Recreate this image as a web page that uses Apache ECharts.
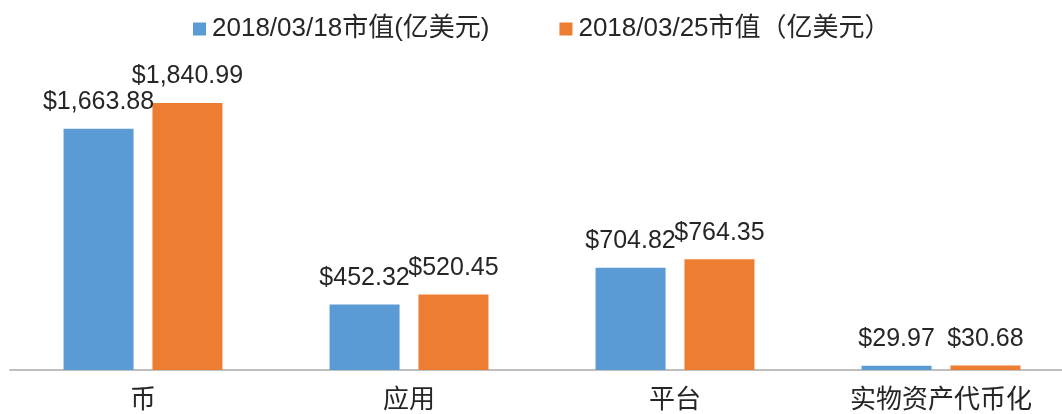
<!DOCTYPE html>
<html lang="zh-CN">
<head>
	<meta charset="UTF-8">
	<title>市值对比</title>
	<script src="https://cdn.jsdelivr.net/npm/echarts@6/dist/echarts.min.js"></script>
	<style>
		html, body { margin: 0; padding: 0; background: #fff; }
		#main { width: 1062px; height: 414px; }
	</style>
</head>
<body>
	<div id="main"></div>
	<script>
		// 分类及两周的市值（亿美元）
		var categories = ['币', '应用', '平台', '实物资产代币化'];
		var seriesNames = ['2018/03/18市值(亿美元)', '2018/03/25市值（亿美元）'];
		var valuesMar18 = [1663.88, 452.32, 704.82, 29.97];
		var valuesMar25 = [1840.99, 520.45, 764.35, 30.68];

		var fontStack = '"Liberation Sans", "Noto Sans CJK SC", sans-serif';

		function money(p) { // 格式化成 $1,663.88
			var parts = p.value.toFixed(2).split('.');
			return '$' + parts[0].replace(/\B(?=(\d{3})+(?!\d))/g, ',') + '.' + parts[1];
		}

		var labelStyle = {
			show: true,
			position: 'top',
			distance: 14,
			formatter: money,
			color: '#262626',
			fontSize: 25,
			fontFamily: fontStack
		};

		var chart = echarts.init(document.getElementById('main'));
		chart.setOption({
			animation: false,
			legend: {
				top: 16,
				left: 193,
				padding: 0,
				itemWidth: 13,
				itemHeight: 13,
				itemGap: 70,
				icon: 'rect',
				textStyle: { fontSize: 26, color: '#262626', fontFamily: fontStack, padding: [0, 0, 0, 1] }
			},
			grid: { left: 10, width: 1064, top: 80, bottom: 44, outerBoundsMode: 'none' },
			xAxis: {
				type: 'category',
				data: categories,
				axisTick: { show: false },
				axisLine: { lineStyle: { color: '#bfbfbf', width: 2 } },
				axisLabel: { fontSize: 26, color: '#262626', margin: 18, fontFamily: fontStack }
			},
			yAxis: {
				type: 'value',
				min: 0,
				max: 2000,
				show: false,
				splitLine: { show: false }
			},
			series: [
				{
					name: seriesNames[0],
					type: 'bar',
					data: valuesMar18,
					barWidth: 70,
					barGap: '27%',
					itemStyle: { color: '#5B9BD5' },
					label: labelStyle
				},
				{
					name: seriesNames[1],
					type: 'bar',
					data: valuesMar25,
					barWidth: 70,
					itemStyle: { color: '#ED7D31' },
					label: labelStyle
				}
			]
		});
	</script>
</body>
</html>
